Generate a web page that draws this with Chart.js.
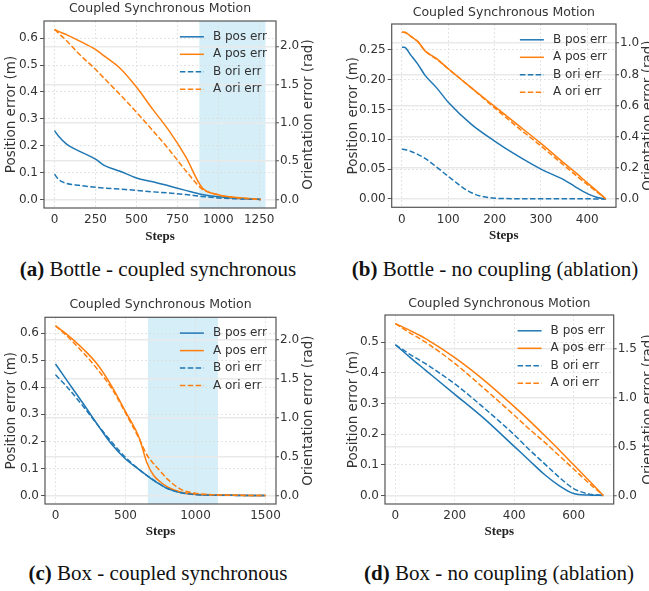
<!DOCTYPE html>
<html>
<head>
<meta charset="utf-8">
<title>Coupled Synchronous Motion</title>
<script src="https://cdn.jsdelivr.net/npm/chart.js@4.4.1/dist/chart.umd.min.js"></script>
<style>
  html, body { margin: 0; padding: 0; background: #fff; }
  body { position: relative; width: 649px; height: 591px; overflow: hidden; }
  canvas { position: absolute; }
  .caption {
    position: absolute; transform: translate(-50%, -50%); white-space: nowrap;
    font-family: 'Liberation Serif', 'Times New Roman', serif; font-size: 21px; color: #111;
  }
</style>
</head>
<body>
<canvas id="chart-a" width="322" height="248" style="left:0;top:0"></canvas>
<canvas id="chart-b" width="324" height="248" style="left:325px;top:0"></canvas>
<canvas id="chart-c" width="322" height="248" style="left:0;top:296px"></canvas>
<canvas id="chart-d" width="324" height="248" style="left:325px;top:296px"></canvas>
<div class="caption" style="left:158px;top:269px"><b>(a)</b> Bottle - coupled synchronous</div>
<div class="caption" style="left:495px;top:269px"><b>(b)</b> Bottle - no coupling (ablation)</div>
<div class="caption" style="left:158px;top:573px"><b>(c)</b> Box - coupled synchronous</div>
<div class="caption" style="left:499px;top:573px"><b>(d)</b> Box - no coupling (ablation)</div>
<script>
// (a) bottle - coupled synchronous
const stepsA = [0, 25, 75, 150, 250, 300, 400, 500, 600, 700, 800, 900, 1000, 1100, 1200, 1260];
const bPosA = [0.256, 0.235, 0.205, 0.180, 0.150, 0.128, 0.105, 0.080, 0.066, 0.050, 0.034, 0.019, 0.010, 0.005, 0.002, 0.0];
const aPosA = [0.632, 0.625, 0.612, 0.590, 0.558, 0.535, 0.488, 0.418, 0.335, 0.255, 0.160, 0.045, 0.018, 0.008, 0.003, 0.0];
const bOriA = [0.33, 0.26, 0.21, 0.185, 0.16, 0.15, 0.135, 0.12, 0.10, 0.085, 0.065, 0.04, 0.02, 0.01, 0.004, 0.0];
const aOriA = [2.22, 2.17, 2.07, 1.90, 1.70, 1.59, 1.37, 1.14, 0.90, 0.65, 0.38, 0.14, 0.06, 0.025, 0.008, 0.0];
const shadeA = [884, 1288];
const xTicksA = [0, 250, 500, 750, 1000, 1250];
const yTicksA = [0, 0.1, 0.2, 0.3, 0.4, 0.5, 0.6];
const y1TicksA = [0, 0.5, 1.0, 1.5, 2.0];

// (b) bottle - no coupling
const stepsB = [0, 5, 20, 35, 50, 75, 100, 150, 200, 250, 300, 350, 375, 400, 420, 440];
const bPosB = [0.254, 0.254, 0.240, 0.225, 0.207, 0.186, 0.162, 0.125, 0.097, 0.072, 0.050, 0.032, 0.020, 0.009, 0.003, 0.0];
const aPosB = [0.279, 0.279, 0.272, 0.263, 0.248, 0.235, 0.218, 0.186, 0.155, 0.124, 0.093, 0.060, 0.044, 0.027, 0.014, 0.0];
const bOriB = [0.32, 0.318, 0.305, 0.285, 0.26, 0.205, 0.145, 0.04, 0.005, 0.002, 0.002, 0.001, 0.001, 0.001, 0.0, 0.0];
const aOriB = [1.07, 1.07, 1.043, 1.009, 0.951, 0.897, 0.836, 0.713, 0.585, 0.46, 0.34, 0.215, 0.153, 0.093, 0.047, 0.0];
const xTicksB = [0, 100, 200, 300, 400];
const yTicksB = [0, 0.05, 0.10, 0.15, 0.20, 0.25];
const y1TicksB = [0, 0.2, 0.4, 0.6, 0.8, 1.0];

// (c) box - coupled synchronous
const stepsC = [0, 75, 200, 300, 400, 500, 600, 650, 700, 750, 800, 900, 1000, 1100, 1250, 1500];
const bPosC = [0.486, 0.43, 0.338, 0.262, 0.19, 0.135, 0.095, 0.075, 0.056, 0.04, 0.026, 0.01, 0.004, 0.002, 0.001, 0.0];
const aPosC = [0.627, 0.598, 0.54, 0.484, 0.405, 0.31, 0.21, 0.125, 0.075, 0.05, 0.032, 0.012, 0.005, 0.003, 0.001, 0.0];
const bOriC = [1.55, 1.41, 1.14, 0.91, 0.69, 0.49, 0.33, 0.26, 0.20, 0.14, 0.09, 0.035, 0.012, 0.005, 0.002, 0.0];
const aOriC = [2.18, 2.06, 1.83, 1.62, 1.38, 1.06, 0.72, 0.53, 0.41, 0.31, 0.21, 0.075, 0.03, 0.012, 0.004, 0.0];
const shadeC = [660, 1160];
const xTicksC = [0, 500, 1000, 1500];
const yTicksC = [0, 0.1, 0.2, 0.3, 0.4, 0.5, 0.6];
const y1TicksC = [0, 0.5, 1.0, 1.5, 2.0];

// (d) box - no coupling
const stepsD = [0, 50, 100, 200, 300, 400, 450, 500, 550, 600, 650, 700];
const bPosD = [0.492, 0.45, 0.41, 0.33, 0.25, 0.16, 0.115, 0.07, 0.033, 0.006, 0.001, 0.0];
const aPosD = [0.561, 0.538, 0.513, 0.45, 0.375, 0.29, 0.245, 0.198, 0.15, 0.10, 0.05, 0.0];
const bOriD = [1.54, 1.44, 1.35, 1.14, 0.89, 0.62, 0.47, 0.33, 0.19, 0.07, 0.015, 0.0];
const aOriD = [1.757, 1.66, 1.57, 1.35, 1.09, 0.82, 0.68, 0.55, 0.41, 0.27, 0.13, 0.0];
const xTicksD = [0, 200, 400, 600];
const yTicksD = [0, 0.1, 0.2, 0.3, 0.4, 0.5];
const y1TicksD = [0, 0.5, 1.0, 1.5];

const BLUE = '#1f77b4';
const ORANGE = '#ff7f0e';
const TICK = '#333333';
const SANS = "'DejaVu Sans', sans-serif";
const SERIF = "'Liberation Serif', 'Times New Roman', serif";

Chart.defaults.font.family = SANS;

/**
 * one subplot: position + orientation error on twin y axes
 */
function makeChart(id, cfg) {
  const canvas = document.getElementById(id);
  const w = canvas.width, h = canvas.height;
  const plot = cfg.plot;

  const series = (label, ys, color, dashed, axis, order) => ({
    label,
    data: cfg.steps.map((x, i) => ({ x, y: ys[i] })),
    borderColor: color,
    borderWidth: 1.5,
    borderDash: dashed ? [5.5, 2.4] : [],
    pointRadius: 0,
    cubicInterpolationMode: 'monotone',
    yAxisID: axis,
    order
  });

  const fixTicks = list => scale => { scale.ticks = list.map(v => ({ value: v })); };

  // light blue band, drawn under grid and lines
  const shadePlugin = {
    id: 'shade',
    beforeDraw(chart) {
      if (!cfg.shade) return;
      const { ctx, chartArea, scales } = chart;
      const x0 = scales.x.getPixelForValue(cfg.shade[0]);
      const x1 = Math.min(scales.x.getPixelForValue(cfg.shade[1]), chartArea.right);
      ctx.save();
      ctx.fillStyle = 'rgba(135, 206, 235, 0.35)';
      ctx.fillRect(x0, chartArea.top, x1 - x0, chartArea.bottom - chartArea.top);
      ctx.restore();
    }
  };

  // axes frame, right axis label and inside legend
  const overlayPlugin = {
    id: 'overlay',
    afterDatasetsDraw(chart) {
      const { ctx, chartArea } = chart;
      ctx.save();
      ctx.strokeStyle = '#555';
      ctx.lineWidth = 1.2;
      ctx.setLineDash([]);
      ctx.strokeRect(chartArea.left, chartArea.top, chartArea.right - chartArea.left, chartArea.bottom - chartArea.top);

      ctx.translate(cfg.rightTitleX, (chartArea.top + chartArea.bottom) / 2);
      ctx.rotate(-Math.PI / 2);
      ctx.font = '13.5px ' + SANS;
      ctx.fillStyle = TICK;
      ctx.textAlign = 'center';
      ctx.textBaseline = 'middle';
      ctx.fillText('Orientation error (rad)', 0, 0);
      ctx.restore();

      ctx.save();
      ctx.font = '12px ' + SANS;
      const sets = chart.data.datasets;
      const maxW = Math.max(...sets.map(d => ctx.measureText(d.label).width));
      const x0 = chartArea.right - 9 - maxW - 9 - 24;
      sets.forEach((ds, i) => {
        const y = chartArea.top + 15.8 + i * 17.5;
        ctx.strokeStyle = ds.borderColor;
        ctx.lineWidth = ds.borderWidth;
        ctx.setLineDash(ds.borderDash);
        ctx.beginPath();
        ctx.moveTo(x0, y);
        ctx.lineTo(x0 + 24, y);
        ctx.stroke();
        ctx.setLineDash([]);
        ctx.fillStyle = TICK;
        ctx.textBaseline = 'middle';
        ctx.fillText(ds.label, x0 + 33, y);
      });
      ctx.restore();
    }
  };

  return new Chart(canvas.getContext('2d'), {
    type: 'line',
    data: {
      datasets: [
        series('B pos err', cfg.bPos, BLUE, false, 'y', 3),
        series('A pos err', cfg.aPos, ORANGE, false, 'y', 2),
        series('B ori err', cfg.bOri, BLUE, true, 'y1', 1),
        series('A ori err', cfg.aOri, ORANGE, true, 'y1', 0)
      ]
    },
    options: {
      responsive: false,
      devicePixelRatio: 1,
      animation: false,
      events: [],
      layout: { padding: 0, autoPadding: false },
      scales: {
        x: {
          type: 'linear',
          min: cfg.xRange[0],
          max: cfg.xRange[1],
          afterBuildTicks: fixTicks(cfg.xTicks),
          afterFit: s => { s.height = h - plot.b; },
          ticks: { color: TICK, font: { size: 12 }, padding: 5, maxRotation: 0, autoSkip: false, callback: v => String(v) },
          grid: { color: '#dedede', lineWidth: 0.8, drawTicks: false },
          border: { display: false, dash: [2, 2] },
          title: { display: true, text: 'Steps', color: '#222', font: { family: SERIF, size: 13, weight: 'bold', lineHeight: 1.2 }, padding: { top: 0, bottom: cfg.stepsPad } }
        },
        y: {
          position: 'left',
          min: cfg.yRange[0],
          max: cfg.yRange[1],
          afterBuildTicks: fixTicks(cfg.yTicks),
          afterFit: s => { s.width = plot.l; },
          ticks: { color: TICK, font: { size: 12 }, padding: 2, autoSkip: false, callback: v => v.toFixed(cfg.yDec) },
          grid: { color: '#dedede', lineWidth: 0.8, drawTicks: true, tickLength: 4, tickColor: '#555', tickWidth: 1 },
          border: { display: false, dash: [2, 2] },
          title: { display: true, text: 'Position error (m)', color: TICK, font: { size: 13.5, lineHeight: 1.2 }, padding: { top: cfg.yTitlePad, bottom: 0 } }
        },
        y1: {
          position: 'right',
          min: cfg.y1Range[0],
          max: cfg.y1Range[1],
          afterBuildTicks: fixTicks(cfg.y1Ticks),
          afterFit: s => { s.width = w - plot.r; },
          ticks: { color: TICK, font: { size: 12 }, padding: 1, autoSkip: false, callback: v => v.toFixed(1) },
          grid: { color: '#e9e9e9', lineWidth: 1.5, drawTicks: true, tickLength: 3, tickColor: '#555', tickWidth: 1 },
          border: { display: false }
        }
      },
      plugins: {
        legend: { display: false },
        tooltip: { enabled: false },
        title: {
          display: true,
          text: 'Coupled Synchronous Motion',
          fullSize: false,
          color: TICK,
          font: { size: 12.5, weight: 'normal', lineHeight: 1.2 },
          padding: { top: cfg.titlePad, bottom: plot.t - cfg.titlePad - 15 }
        }
      }
    },
    plugins: [shadePlugin, overlayPlugin]
  });
}

makeChart('chart-a', {
  steps: stepsA, bPos: bPosA, aPos: aPosA, bOri: bOriA, aOri: aOriA, shade: shadeA,
  xTicks: xTicksA, yTicks: yTicksA, y1Ticks: y1TicksA, yDec: 1,
  xRange: [-64.4, 1352.4], yRange: [-0.0316, 0.6636], y1Range: [-0.111, 2.331],
  plot: { l: 44, r: 276, t: 21, b: 208 },
  titlePad: 1.5, yTitlePad: 3.6, stepsPad: 3.2, rightTitleX: 308
});

makeChart('chart-b', {
  steps: stepsB, bPos: bPosB, aPos: aPosB, bOri: bOriB, aOri: aOriB, shade: null,
  xTicks: xTicksB, yTicks: yTicksB, y1Ticks: y1TicksB, yDec: 2,
  xRange: [-22, 462], yRange: [-0.01395, 0.29295], y1Range: [-0.0535, 1.1235],
  plot: { l: 66.7, r: 291, t: 24, b: 207.3 },
  titlePad: 5.5, yTitlePad: 19.9, stepsPad: 4.5, rightTitleX: 323
});

makeChart('chart-c', {
  steps: stepsC, bPos: bPosC, aPos: aPosC, bOri: bOriC, aOri: aOriC, shade: shadeC,
  xTicks: xTicksC, yTicks: yTicksC, y1Ticks: y1TicksC, yDec: 1,
  xRange: [-75, 1575], yRange: [-0.03135, 0.65835], y1Range: [-0.109, 2.289],
  plot: { l: 45, r: 276, t: 21.3, b: 208 },
  titlePad: 1.5, yTitlePad: 3.6, stepsPad: 4.2, rightTitleX: 308
});

makeChart('chart-d', {
  steps: stepsD, bPos: bPosD, aPos: aPosD, bOri: bOriD, aOri: aOriD, shade: null,
  xTicks: xTicksD, yTicks: yTicksD, y1Ticks: y1TicksD, yDec: 1,
  xRange: [-35, 735], yRange: [-0.02805, 0.58905], y1Range: [-0.08785, 1.84485],
  plot: { l: 60, r: 288.7, t: 19, b: 208 },
  titlePad: 0, yTitlePad: 20.2, stepsPad: 4.5, rightTitleX: 323
});
</script>
</body>
</html>
